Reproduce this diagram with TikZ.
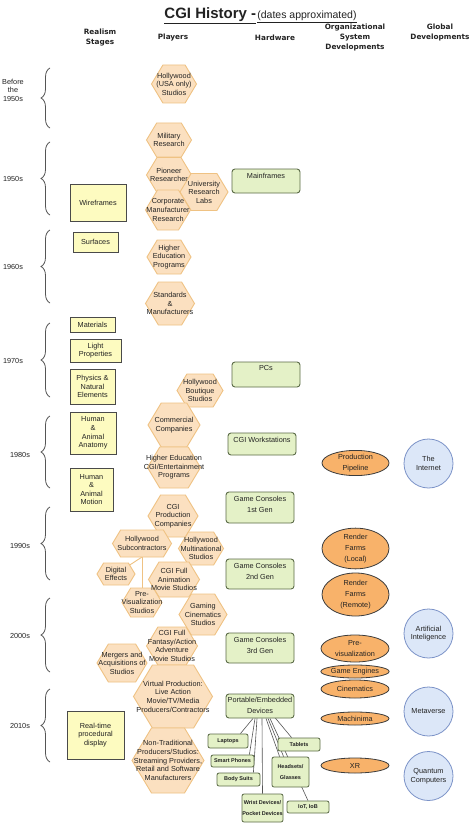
\documentclass[tikz,border=0pt]{standalone}
\usepackage{fontspec}
\setmainfont{Liberation Sans}
\newfontfamily\hdrfont{DejaVu Sans}
\usetikzlibrary{shapes.geometric,decorations.pathreplacing,calc}
\definecolor{hexfill}{HTML}{FBE0C0}
\definecolor{hexdraw}{HTML}{EFC283}
\definecolor{yfill}{HTML}{FDFBC0}
\definecolor{ydraw}{HTML}{4A4A4A}
\definecolor{gfill}{HTML}{E4F1C7}
\definecolor{gdraw}{HTML}{5B6B47}
\definecolor{ofill}{HTML}{F8B26A}
\definecolor{odraw}{HTML}{3C3C3C}
\definecolor{bfill}{HTML}{DCE7F8}
\definecolor{bdraw}{HTML}{7C93C8}
\definecolor{txt}{HTML}{222222}
\definecolor{bracec}{HTML}{555555}
\definecolor{devc}{HTML}{555555}
\pgfdeclarelayer{bottomlayer}
\pgfdeclarelayer{background}
\pgfdeclarelayer{hexlayer}
\pgfsetlayers{bottomlayer,background,hexlayer,main}
\newcommand\hexnode[6]{%
  \begin{pgfonlayer}{hexlayer}
  \filldraw[hexshape] ({#2-#4/2},#3) -- ({#2-#4/2+0.3*#5},{#3-#5/2}) -- ({#2+#4/2-0.3*#5},{#3-#5/2}) -- ({#2+#4/2},#3) -- ({#2+#4/2-0.3*#5},{#3+#5/2}) -- ({#2-#4/2+0.3*#5},{#3+#5/2}) -- cycle;
  \end{pgfonlayer}
  \node[hextext] (#1) at (#2,#3) {#6};}
\tikzset{
  every node/.style={font=\fontsize{7.3}{8.6}\selectfont, text=txt},
  hexshape/.style={fill=hexfill, draw=hexdraw, line width=0.9},
  hextext/.style={align=center, inner sep=0},
  ybox/.style={draw=ydraw, fill=yfill, line width=0.9, align=center, inner sep=0},
  hwbox/.style={draw=gdraw, fill=gfill, rounded corners=3, line width=0.9, inner sep=0},
  hwlab/.style={anchor=north, inner sep=0, align=center, font=\fontsize{7.3}{11}\selectfont},
  devbox/.style={draw=gdraw, fill=gfill, rounded corners=2, line width=0.8, inner sep=0, align=center, font=\fontsize{5.5}{11}\selectfont\bfseries},
  org/.style={ellipse, draw=odraw, fill=ofill, line width=0.8, inner sep=0, align=center, font=\fontsize{7.3}{11}\selectfont},
  glob/.style={circle, draw=bdraw, fill=bfill, line width=0.8, inner sep=0, minimum size=49, align=center},
  hdr/.style={font=\hdrfont\bfseries\fontsize{7.3}{10}\selectfont, align=center, inner sep=0},
  period/.style={align=center, inner sep=0},
  bracest/.style={decorate, decoration={brace, amplitude=9}, draw=bracec, line width=0.8},
  hexline/.style={draw=hexdraw, line width=0.9},
  devline/.style={draw=devc, line width=0.6},
}
\begin{document}
\begin{tikzpicture}[x=1pt, y=-1pt]
\useasboundingbox (0,0) rectangle (474,824);
\begin{pgfonlayer}{bottomlayer}
\fill[white] (0,0) rectangle (474,824);
\end{pgfonlayer}

% title
\node[anchor=base, inner sep=0] (title) at (260.5,19) {{\fontsize{15}{18}\selectfont\bfseries\underline{CGI History -}}\,{\fontsize{10.5}{12}\selectfont\underline{(dates approximated)}}};

% headers
\node[hdr] (hrs) at (100,38) {Realism\\Stages};
\node[hdr] (hpl) at (173,38) {Players};
\node[hdr] (hhw) at (275,38) {Hardware};
\node[hdr] (hor) at (355,37) {Organizational\\System\\Developments};
\node[hdr] (hgl) at (440,32.5) {Global\\Developments};

% periods and braces
\node[period] (p0) at (13,90) {Before\\the\\1950s};
\node[period] (p1) at (13,179) {1950s};
\node[period] (p2) at (13,267) {1960s};
\node[period] (p3) at (13,361) {1970s};
\node[period] (p4) at (20,455) {1980s};
\node[period] (p5) at (20,546) {1990s};
\node[period] (p6) at (20,636) {2000s};
\node[period] (p7) at (20,726) {2010s};
\draw[bracest] (50,128) -- (50,68);
\draw[bracest] (50,215) -- (50,142);
\draw[bracest] (50,303) -- (50,230);
\draw[bracest] (50,397) -- (50,323);
\draw[bracest] (50,488) -- (50,416);
\draw[bracest] (50,580) -- (50,507);
\draw[bracest] (50,672) -- (50,598);
\draw[bracest] (50,762) -- (50,689);

% realism stages
\node[ybox, minimum width=56, minimum height=37] (wire) at (98,202.5) {Wireframes};
\node[ybox, minimum width=45, minimum height=20] (surf) at (95.5,242) {Surfaces};
\node[ybox, minimum width=45, minimum height=15] (mat) at (92.5,324.5) {Materials};
\node[ybox, minimum width=51, minimum height=23] (light) at (95.5,350.5) {Light\\Properties};
\node[ybox, minimum width=45, minimum height=35] (phys) at (92.5,386.5) {Physics \&\\Natural\\Elements};
\node[ybox, minimum width=46, minimum height=42] (anat) at (93,433) {Human\\\&\\Animal\\Anatomy};
\node[ybox, minimum width=43, minimum height=43] (motn) at (91.5,489.5) {Human\\\&\\Animal\\Motion};
\node[ybox, minimum width=57, minimum height=48] (rtpd) at (95.5,735) {Real-time\\procedural\\display};

% players (hexagons)
\hexnode{hus}{174}{84}{45}{38}{Hollywood\\(USA only)\\Studios}
\hexnode{mil}{169}{140}{45}{34}{Military\\Research}
\hexnode{pio}{169}{175}{45}{35}{Pioneer\\Researcher}
\hexnode{uni}{204}{192}{48}{37}{University\\Research\\Labs}
\hexnode{corp}{168}{210}{45}{40}{Corporate\\Manufacturer\\Research}
\hexnode{hep}{169}{257}{44}{34}{Higher\\Education\\Programs}
\hexnode{std}{170}{303.5}{49}{43}{Standards\\\&\\Manufacturers}
\hexnode{hbs}{200}{390.5}{46}{33}{Hollywood\\Boutique\\Studios}
\hexnode{com}{174}{425}{52}{44}{Commercial\\Companies}
\hexnode{hec}{174}{467.5}{53}{41}{Higher Education\\CGI/Entertainment\\Programs}
\hexnode{cpc}{173}{516}{50}{42}{CGI\\Production\\Companies}
\hexnode{sub}{142}{543.5}{59}{27}{Hollywood\\Subcontractors}
\hexnode{hms}{201}{548.5}{45}{33}{Hollywood\\Multinational\\Studios}
\hexnode{dig}{116}{574}{38}{22}{Digital\\Effects}
\hexnode{cfa}{174}{579.5}{51}{35}{CGI Full\\Animation\\Movie Studios}
\hexnode{pre}{142}{602.5}{40}{29}{Pre-\\Visualization\\Studios}
\hexnode{gam}{203}{614.5}{48}{41}{Gaming\\Cinematics\\Studios}
\hexnode{cff}{172}{646}{51}{38}{CGI Full\\Fantasy/Action\\Adventure\\Movie Studios}
\hexnode{mer}{122}{663}{50}{38}{Mergers and\\Acquisitions of\\Studios}
\hexnode{vp}{173}{696.5}{79}{63}{Virtual Production:\\Live Action\\Movie/TV/Media\\Producers/Contractors}
\hexnode{nt}{168}{760.5}{72}{65}{Non-Traditional\\Producers/Studios:\\Streaming Providers,\\Retail and Software\\Manufacturers}

\coordinate (subb) at (142,557);
\begin{pgfonlayer}{background}
\draw[hexline] (subb) -- (dig);
\draw[hexline] (subb) -- (pre);
\end{pgfonlayer}

% hardware
\node[hwbox, minimum width=68, minimum height=24] (mf) at (266,181) {};
\node[hwlab] (mft) at ($(mf.north)+(0,4)$) {Mainframes};
\node[hwbox, minimum width=68, minimum height=25] (pc) at (266,374.5) {};
\node[hwlab] (pct) at ($(pc.north)+(0,4)$) {PCs};
\node[hwbox, minimum width=68, minimum height=22] (ws) at (262,444) {};
\node[hwlab] (wst) at ($(ws.north)+(0,4)$) {CGI Workstations};
\node[hwbox, minimum width=68, minimum height=31] (gc1) at (260,507.5) {};
\node[hwlab] (gc1t) at ($(gc1.north)+(0,4)$) {Game Consoles\\1st Gen};
\node[hwbox, minimum width=68, minimum height=30] (gc2) at (260,574) {};
\node[hwlab] (gc2t) at ($(gc2.north)+(0,4)$) {Game Consoles\\2nd Gen};
\node[hwbox, minimum width=68, minimum height=30] (gc3) at (260,648) {};
\node[hwlab] (gc3t) at ($(gc3.north)+(0,4)$) {Game Consoles\\3rd Gen};
\node[hwbox, minimum width=68, minimum height=24] (dev) at (260,706) {};
\node[hwlab] (devt) at ($(dev.north)+(0,3)$) {Portable/Embedded\\Devices};

\node[devbox, minimum width=40, minimum height=14] (lap) at (228,741) {Laptops};
\node[devbox, minimum width=43, minimum height=12] (sp) at (232.5,761) {Smart Phones};
\node[devbox, minimum width=43, minimum height=13] (bs) at (238.5,779.5) {Body Suits};
\node[devbox, minimum width=41, minimum height=28] (wr) at (262.5,808) {Wrist Devices/\\Pocket Devices};
\node[devbox, minimum width=42, minimum height=13] (tab) at (299,744.5) {Tablets};
\node[devbox, minimum width=37, minimum height=30] (hg) at (290.5,772) {Headsets/\\Glasses};
\node[devbox, minimum width=42, minimum height=12] (iot) at (308,807) {IoT, IoB};

\begin{pgfonlayer}{background}
\draw[devline] ($(dev.south)+(-7,0)$) -- ($(lap.north east)+(-8,0)$);
\draw[devline] ($(dev.south)+(-5,0)$) -- ($(sp.north east)+(-5,0)$);
\draw[devline] ($(dev.south)+(-3,0)$) -- ($(bs.north east)+(-7,0)$);
\draw[devline] ($(dev.south)+(2,0)$) -- (wr.north);
\draw[devline] ($(dev.south)+(14,-2)$) -- ($(tab.north west)+(14,0)$);
\draw[devline] ($(dev.south)+(6,0)$) -- ($(hg.north west)+(8,0)$);
\draw[devline] ($(dev.south)+(8,0)$) -- ($(hg.north west)+(12,0)$);
\draw[devline] ($(dev.south)+(10,0)$) -- (iot.north);
\end{pgfonlayer}

% organizational
\node[org, minimum width=67, minimum height=24] (pp) at (355.5,463) {Production\\Pipeline};
\node[org, minimum width=67, minimum height=37] (rfl) at (355.5,548.5) {Render\\Farms\\(Local)};
\node[org, minimum width=67, minimum height=43] (rfr) at (355.5,594.5) {Render\\Farms\\(Remote)};
\node[org, minimum width=68, minimum height=27] (pv) at (355,648.5) {Pre-\\visualization};
\node[org, minimum width=68, minimum height=13] (ge) at (355,671.5) {Game Engines};
\node[org, minimum width=68, minimum height=18] (cin) at (355,689) {Cinematics};
\node[org, minimum width=68, minimum height=13] (mac) at (355,718.5) {Machinima};
\node[org, minimum width=68, minimum height=15] (xr) at (355,765.5) {XR};

% global
\node[glob] (inet) at (428.5,463.5) {The\\Internet};
\node[glob] (ai) at (428.5,633.5) {Artificial\\Inteligence};
\node[glob] (meta) at (428.5,711.5) {Metaverse};
\node[glob] (qc) at (428.5,776) {Quantum\\Computers};
\end{tikzpicture}
\end{document}
